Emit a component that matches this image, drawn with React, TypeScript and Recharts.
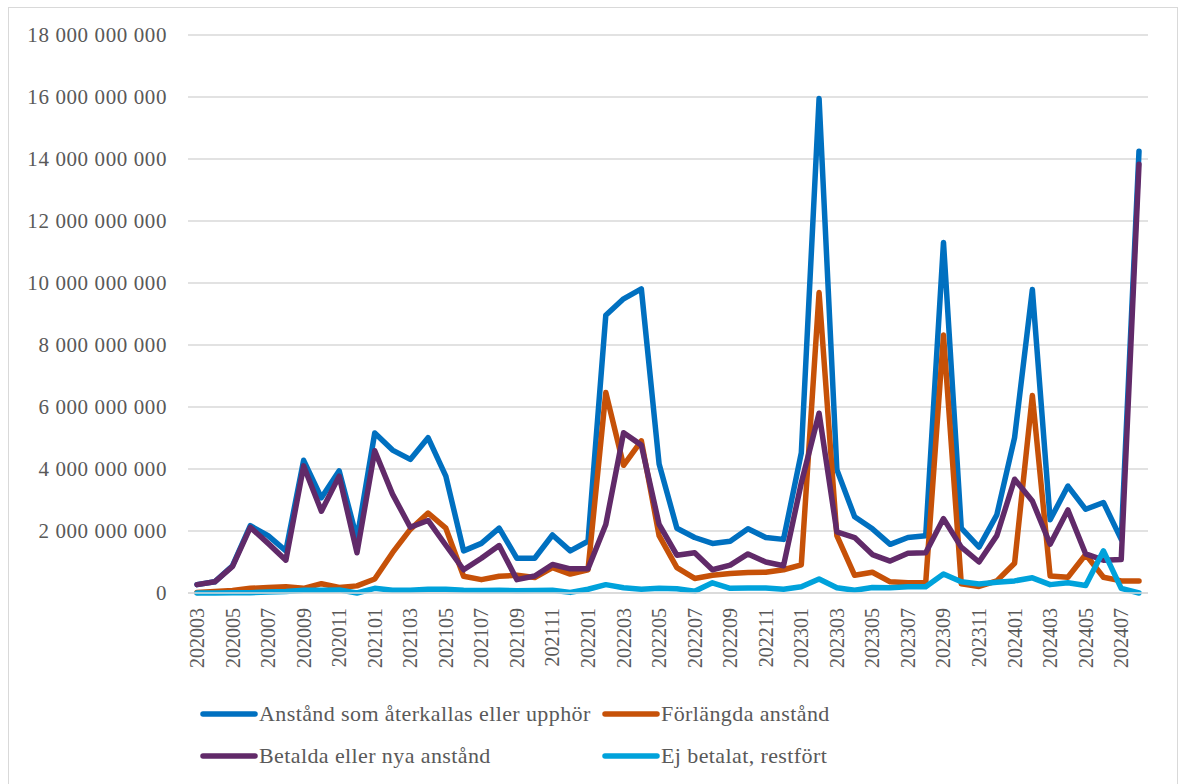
import React from "react";
import { LineChart, Line, XAxis, YAxis, CartesianGrid, Legend } from "recharts";

const months = [
  "202003","202004","202005","202006","202007","202008","202009","202010","202011","202012",
  "202101","202102","202103","202104","202105","202106","202107","202108","202109","202110","202111","202112",
  "202201","202202","202203","202204","202205","202206","202207","202208","202209","202210","202211","202212",
  "202301","202302","202303","202304","202305","202306","202307","202308","202309","202310","202311","202312",
  "202401","202402","202403","202404","202405","202406","202407","202408",
];

// values in billions SEK
const aterkallas = [
  0.27, 0.36, 0.88, 2.17, 1.85, 1.36, 4.28, 3.07, 3.94, 1.75,
  5.16, 4.61, 4.31, 5.01, 3.77, 1.36, 1.6, 2.09, 1.12, 1.12, 1.87, 1.36,
  1.67, 8.96, 9.49, 9.81, 4.16, 2.09, 1.79, 1.6, 1.67, 2.07, 1.79, 1.73,
  4.52, 15.95, 3.98, 2.46, 2.07, 1.57, 1.79, 1.85, 11.31, 2.09, 1.48, 2.52,
  5.01, 9.79, 2.36, 3.45, 2.7, 2.92, 1.73, 14.25,
];
const forlangda = [
  0.02, 0.05, 0.08, 0.15, 0.18, 0.2, 0.15, 0.3, 0.18, 0.23,
  0.45, 1.3, 2.05, 2.58, 2.09, 0.54, 0.43, 0.54, 0.57, 0.5, 0.82, 0.61,
  0.75, 6.47, 4.12, 4.91, 1.85, 0.82, 0.47, 0.57, 0.63, 0.66, 0.67, 0.75,
  0.91, 9.69, 1.85, 0.57, 0.67, 0.36, 0.33, 0.33, 8.32, 0.3, 0.21, 0.39,
  0.96, 6.37, 0.55, 0.51, 1.24, 0.51, 0.39, 0.39,
];
const betalda = [
  0.27, 0.36, 0.86, 2.12, 1.6, 1.06, 4.1, 2.64, 3.77, 1.3,
  4.59, 3.19, 2.12, 2.34, 1.54, 0.75, 1.12, 1.53, 0.43, 0.55, 0.92, 0.78,
  0.78, 2.21, 5.17, 4.77, 2.21, 1.22, 1.3, 0.75, 0.9, 1.26, 1.0, 0.88,
  3.55, 5.8, 1.97, 1.79, 1.24, 1.03, 1.28, 1.3, 2.4, 1.48, 1.0, 1.85,
  3.67, 2.97, 1.57, 2.68, 1.26, 1.06, 1.08, 13.83,
];
const restfort = [
  0.0, 0.0, 0.01, 0.01, 0.03, 0.05, 0.09, 0.09, 0.1, 0.0,
  0.15, 0.09, 0.09, 0.12, 0.12, 0.09, 0.08, 0.09, 0.07, 0.08, 0.09, 0.02,
  0.12, 0.27, 0.17, 0.12, 0.15, 0.14, 0.06, 0.33, 0.15, 0.16, 0.16, 0.12,
  0.2, 0.45, 0.17, 0.09, 0.18, 0.17, 0.2, 0.2, 0.61, 0.36, 0.29, 0.35,
  0.39, 0.49, 0.27, 0.33, 0.24, 1.36, 0.15, 0.0,
];

const yTicks = [0, 2e9, 4e9, 6e9, 8e9, 10e9, 12e9, 14e9, 16e9, 18e9];

const seriesNames = [
  "Anstånd som återkallas eller upphör",
  "Förlängda anstånd",
  "Betalda eller nya anstånd",
  "Ej betalat, restfört",
];
const seriesColors = ["#0070C0", "#C65108", "#612A69", "#00A2DB"];
const seriesKeys = ["a", "b", "c", "d"];

const data = months.map((m, i) => ({
  month: m,
  a: aterkallas[i] * 1e9,
  b: forlangda[i] * 1e9,
  c: betalda[i] * 1e9,
  d: restfort[i] * 1e9,
}));

const FONT = "Liberation Serif, DejaVu Serif, Times New Roman, serif";
const TEXT = "#595959";

const fmt = (v: number) => String(Math.round(v)).replace(/\B(?=(\d{3})+(?!\d))/g, " ");

const XTick = (props: any) => {
  const { x, y, payload } = props;
  const y0 = y + 15;
  return (
    <text
      x={x}
      y={y0}
      dy={7}
      transform={`rotate(-90, ${x}, ${y0})`}
      textAnchor="end"
      fill={TEXT}
      style={{ fontFamily: FONT, fontSize: 20 }}
    >
      {payload.value}
    </text>
  );
};

const YTick = (props: any) => {
  const { x, y, payload } = props;
  return (
    <text
      x={x}
      y={y}
      dy={7}
      textAnchor="end"
      fill={TEXT}
      style={{ fontFamily: FONT, fontSize: 21, letterSpacing: 0.6 }}
    >
      {fmt(payload.value)}
    </text>
  );
};

const LegendContent = () => {
  const positions = [
    { left: 200, top: 20 },
    { left: 602, top: 20 },
    { left: 200, top: 62 },
    { left: 602, top: 62 },
  ];
  return (
    <div style={{ position: "relative", height: 90, width: 1148 }}>
      {seriesNames.map((name, i) => (
        <div
          key={name}
          style={{
            position: "absolute",
            left: positions[i].left,
            top: positions[i].top - 15,
            height: 30,
            display: "flex",
            alignItems: "center",
            whiteSpace: "nowrap",
          }}
        >
          <svg width={58} height={10} style={{ display: "block" }}>
            <line x1={3} y1={5} x2={55} y2={5} stroke={seriesColors[i]} strokeWidth={5.5} strokeLinecap="round" />
          </svg>
          <span style={{ fontFamily: FONT, fontSize: 22, letterSpacing: 0.4, color: TEXT, marginLeft: 1 }}>{name}</span>
        </div>
      ))}
    </div>
  );
};

export default function App() {
  return (
    <div
      style={{
        position: "absolute",
        left: 8,
        top: 7,
        width: 1170,
        height: 800,
        border: "1px solid #d9d9d9",
        boxSizing: "border-box",
        background: "#fff",
      }}
    >
      <div style={{ position: "absolute", left: -9, top: -8 }}>
        <LineChart
          width={1181}
          height={784}
          data={data}
          margin={{ top: 35, right: 33, left: 0, bottom: 0 }}
        >
          <CartesianGrid vertical={false} stroke="#d9d9d9" strokeWidth={1.5} />
          <XAxis
            dataKey="month"
            interval={1}
            tickLine={false}
            tickSize={0}
            tickMargin={0}
            height={101}
            padding={{ left: 9, right: 9 }}
            axisLine={{ stroke: "#d9d9d9", strokeWidth: 1.5 }}
            tick={<XTick />}
          />
          <YAxis
            width={188}
            domain={[0, 18e9]}
            ticks={yTicks}
            axisLine={false}
            tickLine={false}
            tickSize={0}
            tickMargin={21}
            tick={<YTick />}
          />
          <Legend verticalAlign="bottom" height={90} content={<LegendContent />} />
          {seriesKeys.map((k, i) => (
            <Line
              key={k}
              type="linear"
              dataKey={k}
              name={seriesNames[i]}
              stroke={seriesColors[i]}
              strokeWidth={5.5}
              strokeLinejoin="round"
              strokeLinecap="round"
              dot={false}
              activeDot={false}
              isAnimationActive={false}
            />
          ))}
        </LineChart>
      </div>
    </div>
  );
}
